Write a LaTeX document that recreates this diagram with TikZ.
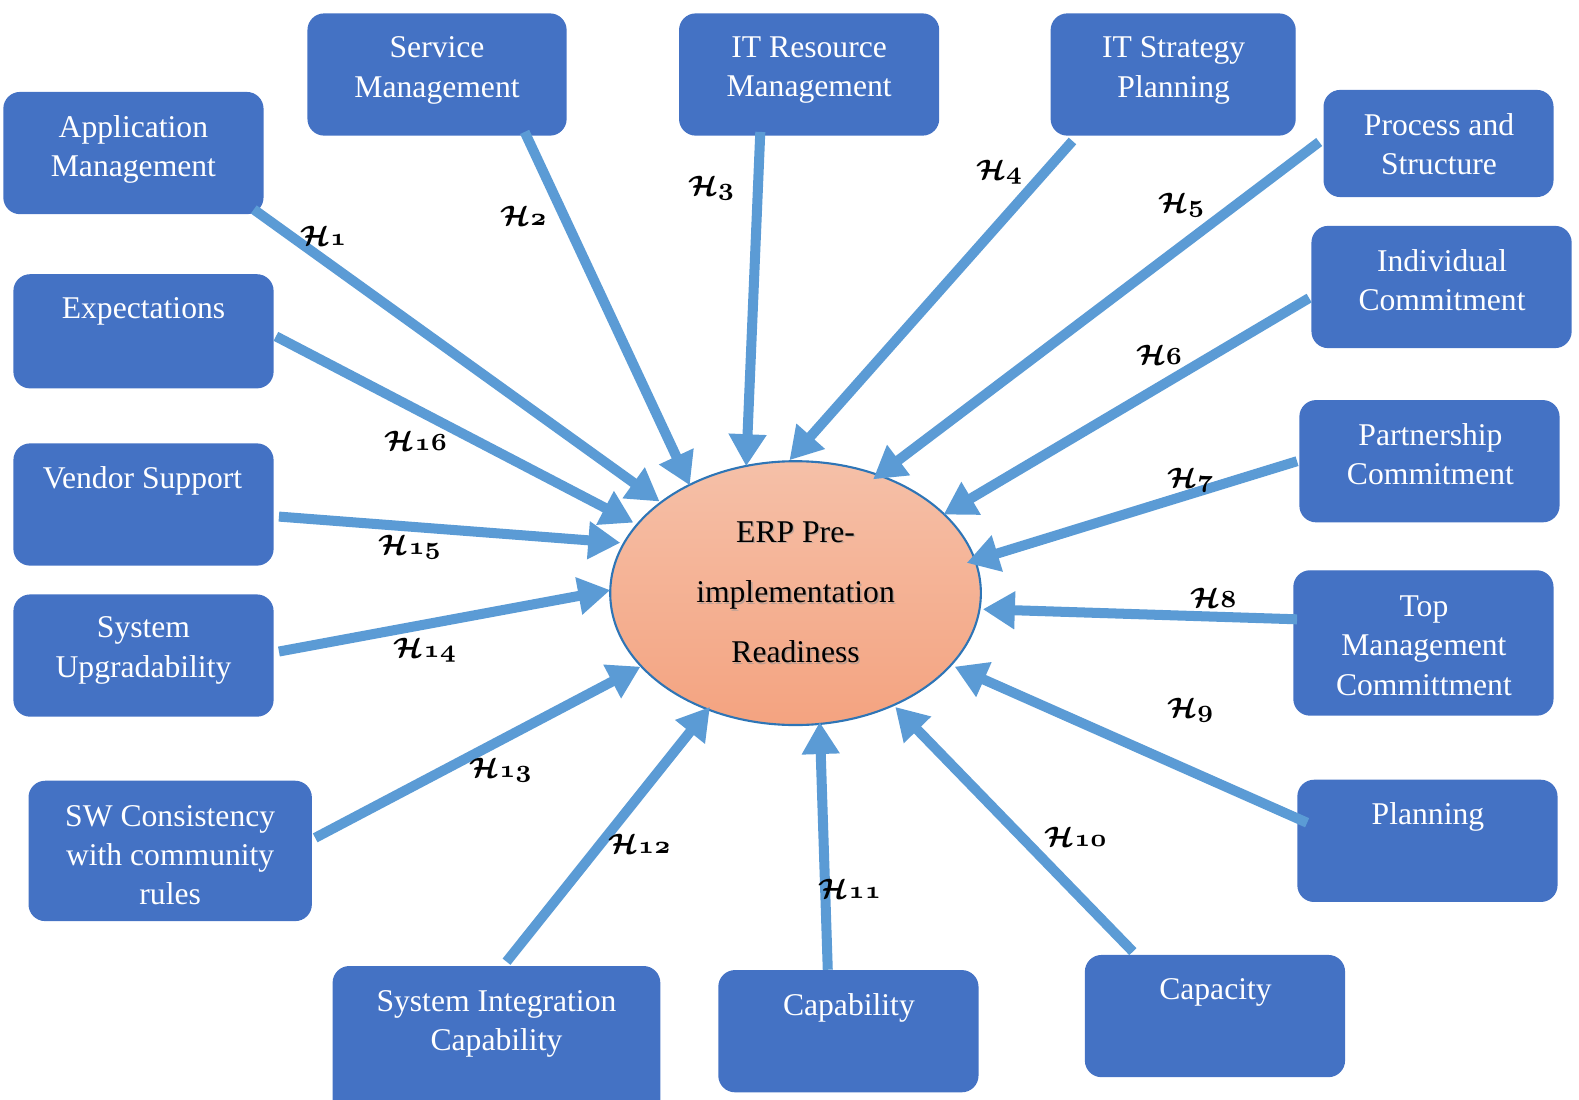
\documentclass[tikz,border=0pt]{standalone}
\usepackage{fontspec}
\setmainfont{Liberation Serif}
\usetikzlibrary{arrows.meta,shapes.geometric,fit}

\definecolor{boxblue}{HTML}{4472C4}
\definecolor{arrowblue}{HTML}{5B9BD5}
\definecolor{ovaltop}{HTML}{F5C0A8}
\definecolor{ovalbot}{HTML}{F4A380}
\definecolor{ovalline}{HTML}{2E75B6}

\tikzset{
  factor/.style={draw=boxblue, fill=boxblue, rounded corners=1.6mm, line width=0.4pt, inner sep=0pt},
  factortext/.style={text=white, font=\fontsize{9}{11.17}\selectfont, align=center, inner sep=0pt, anchor=north},
  link/.style={draw=arrowblue, line width=2.85pt, -{Triangle[length=3.2mm,width=3.6mm]}},
  hyp/.style={inner sep=0pt},
  coretext/.style={font=\fontsize{9}{17.2}\selectfont, align=center, inner sep=0pt, anchor=north},
}
% calligraphic H with old-style figures
\newcommand{\hlab}[1]{{\boldmath\fontsize{8.2}{10}\selectfont$\mathcal{H}$}{\boldmath\fontsize{7.4}{10}\selectfont$\mathnormal{#1}$}}

\begin{document}
\begin{tikzpicture}[x=0.1007mm, y=-0.1007mm]
\clip (0,0) rectangle (1568,1092);

% central construct
\node[ellipse, minimum width=37.06mm, minimum height=26.38mm, inner sep=0pt,
      top color=ovaltop, bottom color=ovalbot, draw=ovalline, line width=0.6pt] (erp) at (790,589) {};
\node[coretext, text=black!40, opacity=0.6] (erpshadow) at (791.5,518.5) {ERP Pre-\\implementation\\Readiness};
\node[coretext, text=black] (erptext) at (790,517) {ERP Pre-\\implementation\\Readiness};

% factor boxes
\node[factor, fit={(4,92) (261,212)}] (b1) {};
\node[factor, fit={(306,14) (562,134)}] (b2) {};
\node[factor, fit={(675,14) (932,134)}] (b3) {};
\node[factor, fit={(1044,14) (1286,134)}] (b4) {};
\node[factor, fit={(1315,90) (1542,195)}] (b5) {};
\node[factor, fit={(1303,225) (1560,345)}] (b6) {};
\node[factor, fit={(1291,398) (1548,518)}] (b7) {};
\node[factor, fit={(1285,567) (1542,710)}] (b8) {};
\node[factor, fit={(1289,775) (1546,895)}] (b9) {};
\node[factor, fit={(1078,949) (1335,1069)}] (b10) {};
\node[factor, fit={(714,964) (971,1084)}] (b11) {};
\node[factor, fit={(331,960) (655,1115)}] (b12) {};
\node[factor, fit={(29,776) (309,914)}] (b13) {};
\node[factor, fit={(14,591) (271,711)}] (b14) {};
\node[factor, fit={(14,441) (271,561)}] (b15) {};
\node[factor, fit={(14,273) (271,385)}] (b16) {};

% arrow ends
\coordinate (s1) at (252,208);   \coordinate (e1) at (655,498);
\coordinate (s2) at (521,131);   \coordinate (e2) at (685,482);
\coordinate (s3) at (755,131);   \coordinate (e3) at (741,463);
\coordinate (s4) at (1065,140);  \coordinate (e4) at (784,457);
\coordinate (s5) at (1310,141);  \coordinate (e5) at (867,476);
\coordinate (s6) at (1300,296);  \coordinate (e6) at (937,511);
\coordinate (s7) at (1288,458);  \coordinate (e7) at (960,559);
\coordinate (s8) at (1288,615);  \coordinate (e8) at (976,605);
\coordinate (s9) at (1298,817);  \coordinate (e9) at (948,662);
\coordinate (s10) at (1125,945); \coordinate (e10) at (889,702);
\coordinate (s11) at (822,963);  \coordinate (e11) at (814,717);
\coordinate (s12) at (503,955);  \coordinate (e12) at (705,702);
\coordinate (s13) at (313,832);  \coordinate (e13) at (636,662);
\coordinate (s14) at (277,647);  \coordinate (e14) at (606,586);
\coordinate (s15) at (277,513);  \coordinate (e15) at (616,539);
\coordinate (s16) at (274,334);  \coordinate (e16) at (629,519);

\foreach \i in {1,...,16} { \draw[link] (s\i) -- (e\i); }

% hypothesis labels
\node[hyp] (h1) at (321,234) {\hlab{1}};
\node[hyp] (h2) at (520,214) {\hlab{2}};
\node[hyp] (h3) at (706,187) {\hlab{3}};
\node[hyp] (h4) at (992,171) {\hlab{4}};
\node[hyp] (h5) at (1173,204) {\hlab{5}};
\node[hyp] (h6) at (1151,352) {\hlab{6}};
\node[hyp] (h7) at (1182,477) {\hlab{7}};
\node[hyp] (h8) at (1205,594) {\hlab{8}};
\node[hyp] (h9) at (1182,705) {\hlab{9}};
\node[hyp] (h10) at (1068,831) {\hlab{10}};
\node[hyp] (h11) at (844,883) {\hlab{11}};
\node[hyp] (h12) at (635,838) {\hlab{12}};
\node[hyp] (h13) at (497,765) {\hlab{13}};
\node[hyp] (h14) at (422,646) {\hlab{14}};
\node[hyp] (h15) at (407,543) {\hlab{15}};
\node[hyp] (h16) at (413,438) {\hlab{16}};

% box captions
\node[factortext] (t1) at (132.5,114) {Application\\Management};
\node[factortext] (t2) at (434,36) {Service\\Management};
\node[factortext] (t3) at (803.5,36) {IT Resource\\Management};
\node[factortext] (t4) at (1165.5,36) {IT Strategy\\Planning};
\node[factortext] (t5) at (1429,112) {Process and\\Structure};
\node[factortext] (t6) at (1432,247) {Individual\\Commitment};
\node[factortext] (t7) at (1420.5,420) {Partnership\\Commitment};
\node[factortext] (t8) at (1414,591) {Top\\Management\\Committment};
\node[factortext] (t9) at (1418,796) {Planning};
\node[factortext] (t10) at (1207,971) {Capacity};
\node[factortext] (t11) at (843,986) {Capability};
\node[factortext] (t12) at (493,983) {System Integration\\Capability};
\node[factortext] (t13) at (169,799) {SW Consistency\\with community\\rules};
\node[factortext] (t14) at (142.5,612) {System\\Upgradability};
\node[factortext] (t15) at (141.5,463) {Vendor Support};
\node[factortext] (t16) at (142.5,295) {Expectations};
\end{tikzpicture}
\end{document}
